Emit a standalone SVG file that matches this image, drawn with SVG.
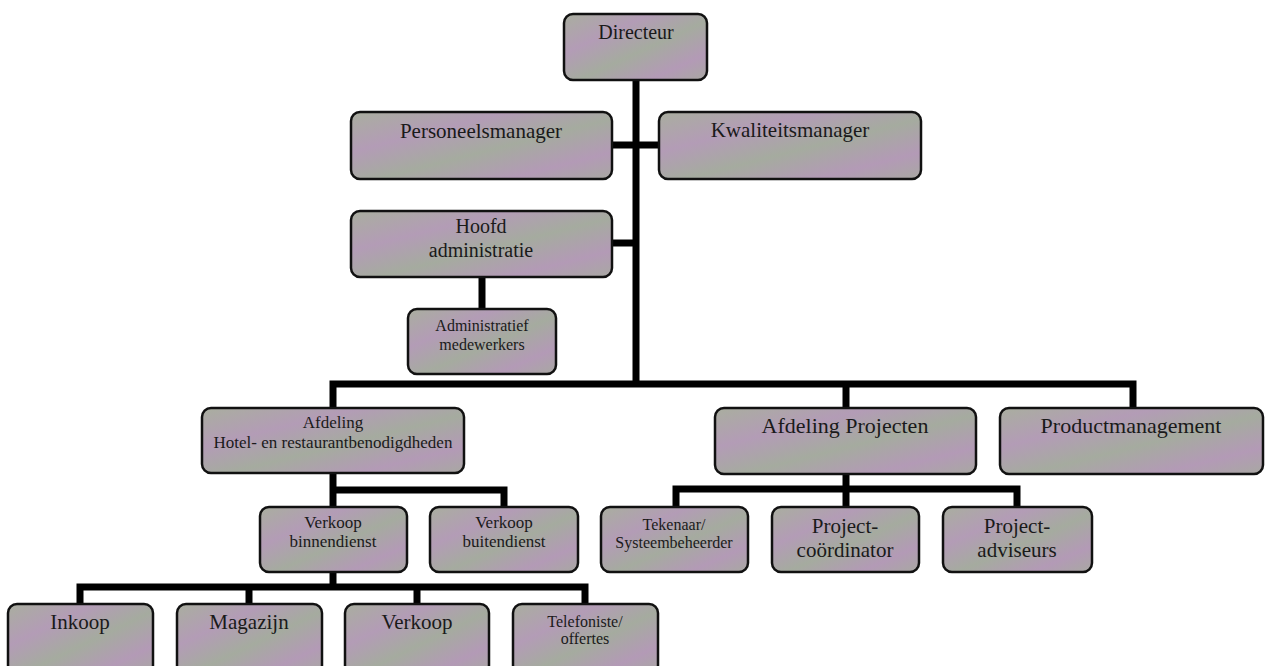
<svg xmlns="http://www.w3.org/2000/svg" width="1266" height="666" viewBox="0 0 1266 666">
<defs>
<linearGradient id="fill" x1="0" y1="0" x2="1" y2="1">
<stop offset="0" stop-color="#a9ae9f"/>
<stop offset="0.3" stop-color="#b39cb6"/>
<stop offset="0.55" stop-color="#a5ab9f"/>
<stop offset="0.8" stop-color="#b39ab6"/>
<stop offset="1" stop-color="#a8a8a2"/>
</linearGradient>
<style>
.box{fill:url(#fill);stroke:#111;stroke-width:2.5}
.t{font-family:"Liberation Serif","Times New Roman",serif;fill:#1a1a1a;text-anchor:middle}
.c{stroke:#000;stroke-width:7;fill:none;stroke-linecap:butt}
</style>
</defs>
<rect width="1266" height="666" fill="#fff"/>
<g id="connectors">
<path class="c" d="M636 80V387"/>
<path class="c" d="M612 145H659"/>
<path class="c" d="M612 243H636"/>
<path class="c" d="M482 277V309"/>
<path class="c" d="M333 408V384H1133V408"/>
<path class="c" d="M846 384V408"/>
<path class="c" d="M333 473V507"/>
<path class="c" d="M333 490H504V507"/>
<path class="c" d="M333 572V587"/>
<path class="c" d="M80 604V587H585V604"/>
<path class="c" d="M249 587V604"/>
<path class="c" d="M417 587V604"/>
<path class="c" d="M846 474V507"/>
<path class="c" d="M676 507V489H1017V507"/>
</g>
<g id="directeur"><rect class="box" x="564" y="14" width="143" height="66" rx="9"/><text class="t" x="636" y="39" font-size="20">Directeur</text></g>
<g id="personeelsmanager"><rect class="box" x="351" y="112" width="261" height="67" rx="9"/><text class="t" x="481" y="138" font-size="21">Personeelsmanager</text></g>
<g id="kwaliteitsmanager"><rect class="box" x="659" y="112" width="262" height="67" rx="9"/><text class="t" x="790" y="137" font-size="21">Kwaliteitsmanager</text></g>
<g id="hoofd-administratie"><rect class="box" x="351" y="211" width="261" height="66" rx="9"/><text class="t" x="481" y="233" font-size="20">Hoofd</text><text class="t" x="481" y="257" font-size="20">administratie</text></g>
<g id="administratief-medewerkers"><rect class="box" x="408" y="309" width="148" height="65" rx="9"/><text class="t" x="482" y="331" font-size="16">Administratief</text><text class="t" x="482" y="350" font-size="16">medewerkers</text></g>
<g id="afdeling-hotel"><rect class="box" x="202" y="408" width="262" height="65" rx="9"/><text class="t" x="333" y="428" font-size="17">Afdeling</text><text class="t" x="333" y="448" font-size="17">Hotel- en restaurantbenodigdheden</text></g>
<g id="afdeling-projecten"><rect class="box" x="715" y="408" width="261" height="66" rx="9"/><text class="t" x="845" y="433" font-size="22">Afdeling Projecten</text></g>
<g id="productmanagement"><rect class="box" x="1000" y="408" width="263" height="66" rx="9"/><text class="t" x="1131" y="433" font-size="22">Productmanagement</text></g>
<g id="verkoop-binnendienst"><rect class="box" x="260" y="507" width="147" height="65" rx="9"/><text class="t" x="333" y="528" font-size="17">Verkoop</text><text class="t" x="333" y="547" font-size="17">binnendienst</text></g>
<g id="verkoop-buitendienst"><rect class="box" x="430" y="507" width="148" height="65" rx="9"/><text class="t" x="504" y="528" font-size="17">Verkoop</text><text class="t" x="504" y="547" font-size="17">buitendienst</text></g>
<g id="tekenaar"><rect class="box" x="601" y="507" width="147" height="65" rx="9"/><text class="t" x="674" y="530" font-size="16">Tekenaar/</text><text class="t" x="674" y="548" font-size="16">Systeembeheerder</text></g>
<g id="project-coordinator"><rect class="box" x="772" y="507" width="147" height="65" rx="9"/><text class="t" x="845" y="533" font-size="21">Project-</text><text class="t" x="845" y="557" font-size="21">coördinator</text></g>
<g id="project-adviseurs"><rect class="box" x="943" y="507" width="149" height="65" rx="9"/><text class="t" x="1017" y="533" font-size="21">Project-</text><text class="t" x="1017" y="557" font-size="21">adviseurs</text></g>
<g id="inkoop"><rect class="box" x="8" y="604" width="145" height="70" rx="9"/><text class="t" x="80" y="629" font-size="21">Inkoop</text></g>
<g id="magazijn"><rect class="box" x="177" y="604" width="145" height="70" rx="9"/><text class="t" x="249" y="629" font-size="21">Magazijn</text></g>
<g id="verkoop"><rect class="box" x="345" y="604" width="144" height="70" rx="9"/><text class="t" x="417" y="629" font-size="21">Verkoop</text></g>
<g id="telefoniste"><rect class="box" x="513" y="604" width="145" height="70" rx="9"/><text class="t" x="585" y="627" font-size="16">Telefoniste/</text><text class="t" x="585" y="644" font-size="16">offertes</text></g>
</svg>
